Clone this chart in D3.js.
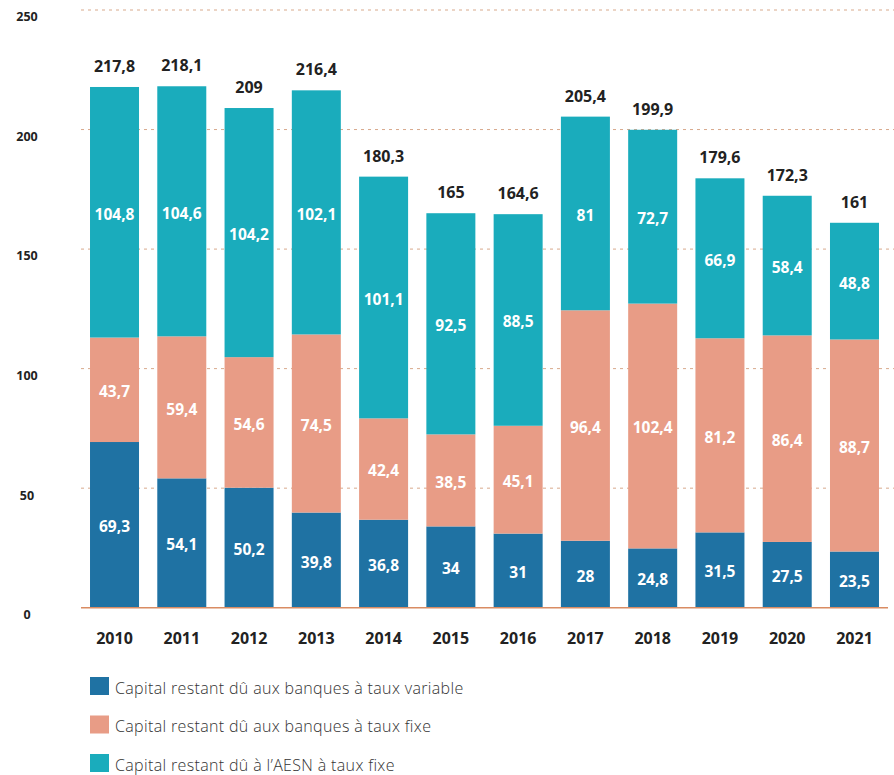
<!DOCTYPE html>
<html><head><meta charset="utf-8">
<script src="https://cdn.jsdelivr.net/npm/d3@7"></script>
<style>html,body{margin:0;padding:0;background:#fff;}svg{display:block;}</style>
</head><body>
<svg id="c" width="894" height="775"></svg>
<script>
const years = ["2010","2011","2012","2013","2014","2015","2016","2017","2018","2019","2020","2021"];
const variableBanques = [69.3,54.1,50.2,39.8,36.8,34,31,28,24.8,31.5,27.5,23.5];
const fixeBanques = [43.7,59.4,54.6,74.5,42.4,38.5,45.1,96.4,102.4,81.2,86.4,88.7];
const fixeAESN = [104.8,104.6,104.2,102.1,101.1,92.5,88.5,81,72.7,66.9,58.4,48.8];
const totals = [217.8,218.1,209,216.4,180.3,165,164.6,205.4,199.9,179.6,172.3,161];
const yTicks = [0,50,100,150,200,250];
const seriesNames = ["Capital restant dû aux banques à taux variable","Capital restant dû aux banques à taux fixe","Capital restant dû à l’AESN à taux fixe"];
const seriesColors = ["#1f72a3","#e89c86","#1aacbc"];

const fmt = v => String(v).replace(".", ",");
const svg = d3.select("#c");
const font = "'Open Sans', sans-serif";

const y = d3.scaleLinear().domain([0,250]).range([607.7,10]);
const x = d3.scaleBand().domain(years).range([81,888]).paddingInner(0.2716).paddingOuter(0.134);

// gridlines
svg.append("g").selectAll("line").data(yTicks.filter(t=>t>0)).join("line")
  .attr("x1",81).attr("x2",894).attr("y1",d=>y(d)).attr("y2",d=>y(d))
  .attr("stroke","#d8a98c").attr("stroke-width",1).attr("stroke-dasharray","3,4");

// y labels
svg.append("g").selectAll("text").data(yTicks).join("text")
  .attr("x",27).attr("y",d=>y(d)+7).attr("dy","0.35em").attr("text-anchor","middle")
  .attr("font-family",font).attr("font-weight",700).attr("font-size",12.5).attr("fill","#222")
  .text(d=>d);

// stack
const rows = years.map((yr,i)=>({year:yr, v:variableBanques[i], f:fixeBanques[i], a:fixeAESN[i]}));
const stack = d3.stack().keys(["v","f","a"])(rows);

const g = svg.append("g");
stack.forEach((layer,li)=>{
  g.append("g").selectAll("rect").data(layer).join("rect")
    .attr("x",d=>x(d.data.year)).attr("width",x.bandwidth())
    .attr("y",d=>y(d[1])).attr("height",d=>y(d[0])-y(d[1]))
    .attr("fill",seriesColors[li]);
});
stack.forEach((layer,li)=>{
  g.append("g").selectAll("text").data(layer).join("text")
    .attr("x",d=>x(d.data.year)+x.bandwidth()/2)
    .attr("y",d=>(y(d[0])+y(d[1]))/2+2).attr("dy","0.35em").attr("text-anchor","middle")
    .attr("font-family",font).attr("font-weight",700).attr("font-size",15.5).attr("fill","#fff")
    .text(d=>fmt(d.data[layer.key]));
});

// baseline
svg.append("line").attr("x1",81).attr("x2",888).attr("y1",y(0)).attr("y2",y(0))
  .attr("stroke","#d98c63").attr("stroke-width",1.5);

// totals
svg.append("g").selectAll("text").data(years).join("text")
  .attr("x",d=>x(d)+x.bandwidth()/2).attr("y",(d,i)=>y(totals[i])-15)
  .attr("text-anchor","middle").attr("font-family",font).attr("font-weight",700)
  .attr("font-size",16).attr("fill","#222").text((d,i)=>fmt(totals[i]));

// x labels
svg.append("g").selectAll("text").data(years).join("text")
  .attr("x",d=>x(d)+x.bandwidth()/2).attr("y",638).attr("dy","0.35em")
  .attr("text-anchor","middle").attr("font-family",font).attr("font-weight",700)
  .attr("font-size",16).attr("fill","#222").text(d=>d);

// legend
const leg = svg.append("g").selectAll("g").data(seriesNames).join("g")
  .attr("transform",(d,i)=>`translate(90,${677+i*38.5})`);
leg.append("rect").attr("width",19).attr("height",18).attr("fill",(d,i)=>seriesColors[i]);
leg.append("text").attr("x",25).attr("y",11).attr("dy","0.35em")
  .attr("font-family",font).attr("font-weight",300).attr("font-size",16)
  .attr("letter-spacing",0.35).attr("fill","#333").text(d=>d);
</script>
</body></html>
